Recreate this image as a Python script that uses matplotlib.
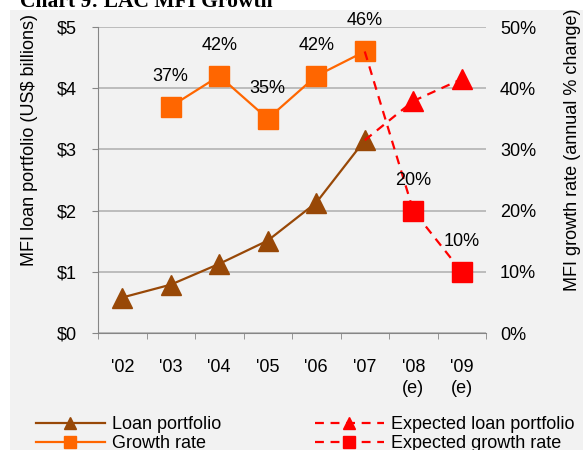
import matplotlib.pyplot as plt
from matplotlib.patches import Rectangle
from matplotlib.ticker import FuncFormatter, FixedLocator

plt.rcParams['font.family'] = ['Liberation Sans', 'DejaVu Sans']

years = ["'02", "'03", "'04", "'05", "'06", "'07", "'08\n(e)", "'09\n(e)"]
loan = [0.58, 0.79, 1.13, 1.51, 2.13, 3.15]          # US$ billions, '02-'07
loan_exp = [3.15, 3.79, 4.15]                        # '07-'09
growth = [37, 42, 35, 42, 46]                        # %, '03-'07
growth_exp = [46, 20, 10]                            # %, '07-'09

brown = '#984807'
orange = '#ff6600'
red = '#ff0000'
fs = 13

fig = plt.figure(figsize=(5.83, 4.5), dpi=100)
fig.patches.append(Rectangle((10 / 583, 0), 1, 1 - 10 / 450, transform=fig.transFigure,
                             facecolor='#f2f2f2', edgecolor='none', zorder=-10))
fig.text(20 / 583, 1 - 7 / 450, 'Chart 9: LAC MFI Growth', family='Liberation Serif',
         fontweight='bold', fontsize=15.5, va='baseline', ha='left')

ax = fig.add_axes([98 / 583, 1 - 333 / 450, 388 / 583, 306 / 450])
ax.set_facecolor('none')
ax2 = ax.twinx()

x = list(range(len(years)))
l1, = ax.plot(x[:6], loan, color=brown, lw=1.6, marker='^', ms=14, zorder=3)
l3, = ax.plot(x[5:], loan_exp, color=red, lw=1.6, ls=(0, (4, 3)), marker='^', ms=14,
              markevery=[1, 2], zorder=3)
l2, = ax2.plot(x[1:6], growth, color=orange, lw=1.6, marker='s', ms=15)
l4, = ax2.plot(x[5:], growth_exp, color=red, lw=1.6, ls=(0, (4, 3)), marker='s', ms=15,
               markevery=[1, 2])

for xi, g in zip(x[1:6] + x[6:], growth + growth_exp[1:]):
    ax2.annotate(f'{g}%', (xi, g), xytext=(0, 22), textcoords='offset points',
                 ha='center', va='center', fontsize=fs)

ax.set_xlim(-0.5, len(years) - 0.5)
ax.set_ylim(0, 5)
ax2.set_ylim(0, 50)
ax.set_yticks(range(6))
ax.yaxis.set_major_formatter(FuncFormatter(lambda v, p: f'${v:.0f}'))
ax2.set_yticks(range(0, 51, 10))
ax2.yaxis.set_major_formatter(FuncFormatter(lambda v, p: f'{v:.0f}%'))
ax.set_xticks(x)
ax.set_xticklabels(years, linespacing=1.3)
ax.xaxis.set_minor_locator(FixedLocator([i - 0.5 for i in range(len(years) + 1)]))

ax.grid(axis='y', color='#b3b3b3', lw=1.2)
ax.set_axisbelow(True)
for a in (ax, ax2):
    for s in ('top', 'right'):
        a.spines[s].set_visible(False)
ax2.spines['left'].set_visible(False)
ax2.spines['bottom'].set_visible(False)
ax.spines['left'].set_color('#868686')
ax.spines['bottom'].set_color('#868686')

ax.tick_params(axis='y', length=4, color='#868686', pad=11, labelsize=fs)
ax2.tick_params(axis='y', length=0, pad=10, labelsize=fs)
ax.tick_params(axis='x', which='major', length=0, pad=19, labelsize=fs)
ax.tick_params(axis='x', which='minor', length=4, color='#868686')

ax.set_ylabel('MFI loan portfolio (US$ billions)', fontsize=fs)
ax2.set_ylabel('MFI growth rate (annual % change)', fontsize=fs)
ax.yaxis.set_label_coords((38 - 98) / 388, (333 - 140) / 306)
ax2.yaxis.set_label_coords((564 - 98) / 388, (333 - 150) / 306)

fig.legend([l1, l2, l3, l4],
           ['Loan portfolio', 'Growth rate', 'Expected loan portfolio', 'Expected growth rate'],
           ncol=2, loc='lower left', bbox_to_anchor=(36 / 583, -2 / 450), frameon=False,
           fontsize=fs, handlelength=3.8, labelspacing=0.1, columnspacing=5.2,
           handletextpad=0.4, markerscale=0.6, borderpad=0, borderaxespad=0)

fig.savefig('out.png', dpi=100)
